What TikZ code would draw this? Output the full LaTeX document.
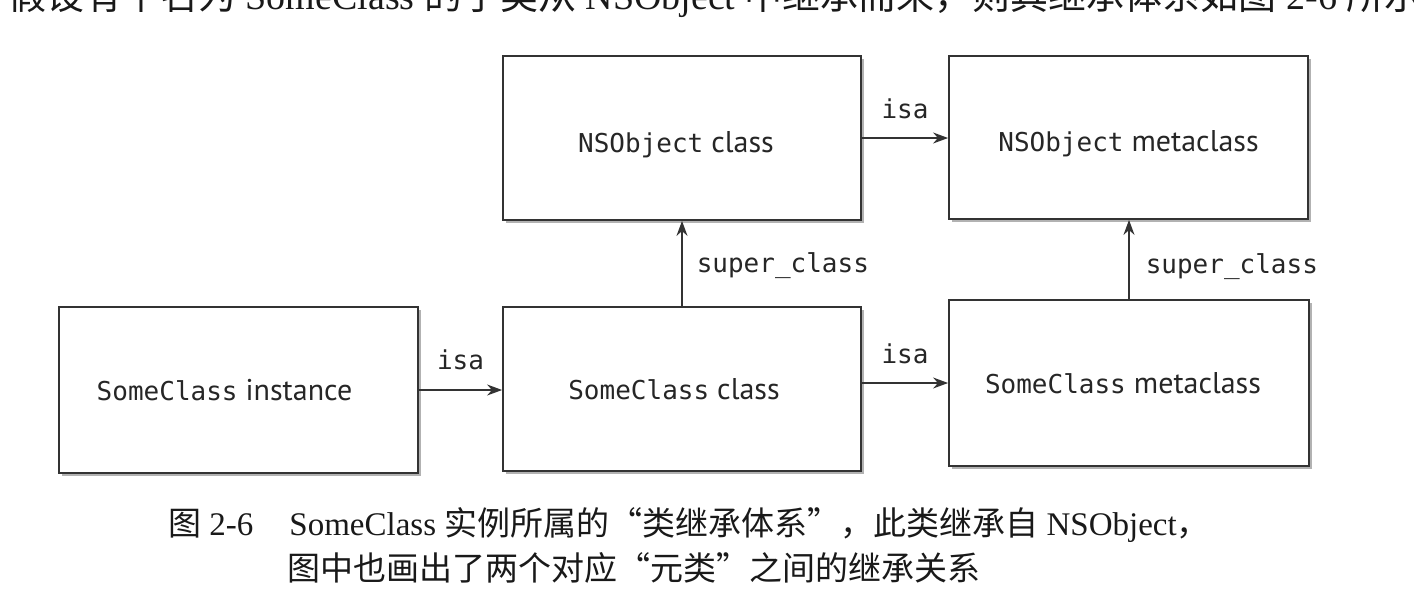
\documentclass[tikz,border=0pt]{standalone}
\usepackage{fontspec}
\setmainfont{Liberation Serif}
\newfontfamily\mono{DejaVu Sans Mono}
\newfontfamily\lab{PT Sans}
\newfontfamily\cjk{Noto Sans CJK SC}
\usetikzlibrary{shadows,arrows.meta}

\newcommand\zh[1]{{\cjk #1}}
\newcommand\mo[1]{{\mono\fontsize{26}{30}\selectfont #1}}
% box label, nudged left by half of the given trailing space
\newcommand\boxlabel[3]{\mo{#1} #2\hspace*{#3}}

\begin{document}
\begin{tikzpicture}[x=1pt,y=-1pt,
  box/.style={draw=black!80, line width=1.8pt, fill=white, inner sep=0pt, text depth=0pt,
    drop shadow={shadow xshift=2.5pt, shadow yshift=-2.5pt, opacity=0.3, fill=black},
    font=\lab\fontsize{30}{34}\selectfont, text=black!85},
  link/.style={draw=black!80, line width=1.5pt, -{Stealth[length=15pt, width=11pt]}},
  lbl/.style={font=\mono\fontsize{26}{30}\selectfont, text=black!85, inner sep=2pt},
  captext/.style={anchor=base west, inner sep=0pt, text=black!90}]

\useasboundingbox (0,0) rectangle (1414,608);

% body text line above the figure, running off the top edge
\begin{scope}
  \clip (0,0) rectangle (1414,608);
  \node[captext, font=\fontsize{38}{40}\selectfont] (lead) at (8,9)
    {\zh{假设有个名为} SomeClass \zh{的子类从} NSObject \zh{中继承而来，则其继承体系如图} 2-6 \zh{所示。}};
\end{scope}

% class boxes
\node[box, text height=28pt, minimum width=358pt, minimum height=164pt] (nsc) at (682,138)
  {\boxlabel{NSObject}{class}{12pt}};
\node[box, text height=28pt, minimum width=359pt, minimum height=163pt] (nsm) at (1128.5,137.5)
  {\boxlabel{NSObject}{metaclass}{0pt}};
\node[box, minimum width=359pt, minimum height=166pt] (sci) at (238.5,390)
  {\boxlabel{SomeClass}{instance}{28pt}};
\node[box, minimum width=358pt, minimum height=164pt] (scc) at (682,389)
  {\boxlabel{SomeClass}{class}{16pt}};
\node[box, minimum width=360pt, minimum height=166pt] (scm) at (1129,383)
  {\boxlabel{SomeClass}{metaclass}{12pt}};

% isa pointers
\draw[link] (sci.east) -- (sci.east -| scc.west) node[lbl, midway, above=17pt] {isa};
\draw[link] (scc.east |- scm) -- (scm.west) node[lbl, midway, above=16pt] {isa};
\draw[link] (nsc.east) -- (nsc.east -| nsm.west) node[lbl, midway, above=16pt] {isa};

% superclass pointers
\draw[link] (scc.north) -- (nsc.south) node[lbl, pos=0.47, right=12pt] {super\_class};
\draw[link] (scm.north) -- (scm.north |- nsm.south) node[lbl, pos=0.41, right=14pt] {super\_class};

% caption
\node[captext, font=\fontsize{33}{36}\selectfont] (cap1) at (168,535)
  {\zh{图} 2-6\hspace{36pt}SomeClass \zh{实例所属的“类继承体系”，此类继承自} NSObject\zh{，}};
\node[captext, font=\fontsize{33}{36}\selectfont] (cap2) at (287,580)
  {\zh{图中也画出了两个对应“元类”之间的继承关系}};
\end{tikzpicture}
\end{document}
